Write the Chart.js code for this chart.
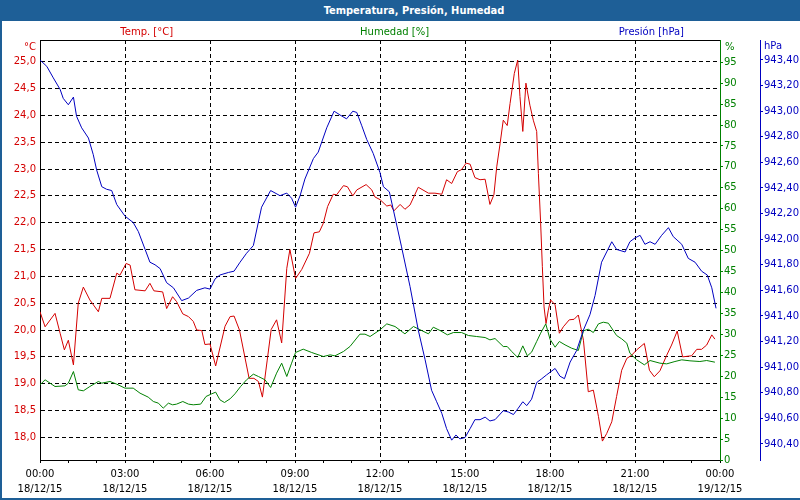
<!DOCTYPE html>
<html>
<head>
<meta charset="utf-8">
<script src="https://cdn.jsdelivr.net/npm/chart.js@4.4.1/dist/chart.umd.min.js"></script>
<style>
  html, body { margin: 0; padding: 0; background: #fff; }
  #wrap { position: relative; width: 800px; height: 500px; overflow: hidden; }
  #chartBox { position: absolute; left: 0; top: 0; width: 800px; height: 500px; }
  #titleBar {
    position: absolute; left: 0; top: 0; width: 800px; height: 21px;
    background: #1e5f97; color: #fff; z-index: 2;
    font: bold 11px "DejaVu Sans Condensed", "DejaVu Sans", sans-serif;
    line-height: 21px;
  }
  #titleBar span { position: absolute; left: 414px; transform: translateX(-50%); white-space: nowrap; }
  #frame {
    position: absolute; left: 0; top: 0; width: 800px; height: 500px; box-sizing: border-box;
    border-left: 2px solid #1e5f97; border-bottom: 2px solid #1e5f97; z-index: 3; pointer-events: none;
  }
</style>
</head>
<body>
<div id="wrap">
  <div id="chartBox"><canvas id="meteoChart"></canvas></div>
  <div id="titleBar"><span>Temperatura, Presión, Humedad</span></div>
  <div id="frame"></div>
</div>
<script>
// ── Data (hours since 18/12/15 00:00) ──────────────────────
const hourLabels = ['00:00', '03:00', '06:00', '09:00', '12:00', '15:00', '18:00', '21:00', '00:00'];
const dateLabels = ['18/12/15', '18/12/15', '18/12/15', '18/12/15', '18/12/15', '18/12/15', '18/12/15', '18/12/15', '19/12/15'];

const tempTicks = [18.0, 18.5, 19.0, 19.5, 20.0, 20.5, 21.0, 21.5, 22.0, 22.5, 23.0, 23.5, 24.0, 24.5, 25.0];
const humTicks  = [0, 5, 10, 15, 20, 25, 30, 35, 40, 45, 50, 55, 60, 65, 70, 75, 80, 85, 90, 95];
const presTicks = [940.4, 940.6, 940.8, 941.0, 941.2, 941.4, 941.6, 941.8, 942.0, 942.2, 942.4, 942.6, 942.8, 943.0, 943.2, 943.4];

const tempHours = [0, 0.18, 0.53, 0.71, 0.86, 1.0, 1.18, 1.35, 1.53, 1.76, 2.06, 2.18, 2.47, 2.71, 2.82, 3.04, 3.18, 3.35, 3.71, 3.88,
  4.02, 4.33, 4.47, 4.68, 4.82, 5.04, 5.24, 5.41, 5.53, 5.71, 5.82, 6.0, 6.2, 6.53, 6.71, 6.85, 7.04, 7.38, 7.55, 7.71,
  7.85, 8.02, 8.16, 8.35, 8.53, 8.71, 8.82, 9.02, 9.24, 9.51, 9.67, 9.86, 10.0, 10.15, 10.35, 10.47, 10.71, 10.85, 11.04, 11.18,
  11.51, 11.71, 11.82, 12.0, 12.24, 12.38, 12.49, 12.71, 12.88, 13.06, 13.35, 13.71, 13.94, 14.18, 14.35, 14.53, 14.73, 14.88, 15.04, 15.18,
  15.35, 15.53, 15.71, 15.88, 16.02, 16.12, 16.24, 16.35, 16.49, 16.59, 16.74, 16.86, 16.94, 17.04, 17.15, 17.29, 17.41, 17.53, 17.59, 17.67,
  17.73, 17.79, 17.86, 17.94, 18.02, 18.18, 18.33, 18.47, 18.68, 18.85, 19.0, 19.18, 19.35, 19.53, 19.71, 19.85, 20.0, 20.18, 20.35, 20.53,
  20.71, 20.88, 21.06, 21.33, 21.51, 21.68, 21.88, 22.12, 22.29, 22.49, 22.68, 23.0, 23.18, 23.35, 23.53, 23.71, 23.82];
const tempValues = [20.34, 20.06, 20.31, 19.94, 19.63, 19.81, 19.35, 20.50, 20.80, 20.56, 20.34, 20.59, 20.59, 21.06, 21.02, 21.24, 21.21, 20.75, 20.73, 20.87,
  20.73, 20.71, 20.40, 20.62, 20.53, 20.30, 20.25, 20.16, 20.00, 19.99, 19.73, 19.74, 19.33, 20.07, 20.25, 20.26, 20.00, 19.10, 19.10, 19.04,
  18.75, 19.44, 20.01, 20.19, 19.76, 21.15, 21.50, 20.96, 21.13, 21.43, 21.81, 21.83, 21.99, 22.30, 22.53, 22.52, 22.69, 22.67, 22.50, 22.61,
  22.71, 22.61, 22.48, 22.43, 22.31, 22.33, 22.22, 22.34, 22.25, 22.33, 22.66, 22.55, 22.55, 22.53, 22.80, 22.73, 22.95, 22.99, 23.11, 23.09,
  22.84, 22.80, 22.81, 22.34, 22.52, 23.04, 23.48, 23.91, 23.81, 24.22, 24.78, 25.03, 24.35, 23.70, 24.60, 24.19, 23.91, 23.70, 22.92, 21.99,
  21.18, 20.43, 20.12, 20.37, 20.56, 20.47, 19.94, 20.06, 20.19, 20.20, 20.28, 19.81, 18.85, 18.88, 18.39, 17.93, 18.07, 18.29, 18.76, 19.25,
  19.47, 19.53, 19.63, 19.75, 19.25, 19.13, 19.24, 19.53, 19.72, 19.98, 19.50, 19.52, 19.64, 19.64, 19.72, 19.91, 19.83];

const humHours = [0, 0.18, 0.53, 0.88, 1.0, 1.18, 1.35, 1.53, 1.76, 2.06, 2.18, 2.47, 2.71, 3.0, 3.29, 3.53, 3.82, 4.0, 4.18, 4.35,
  4.53, 4.68, 4.82, 5.04, 5.24, 5.41, 5.67, 5.86, 6.06, 6.2, 6.35, 6.51, 6.71, 6.88, 7.08, 7.29, 7.53, 7.71, 7.94, 8.14,
  8.35, 8.53, 8.71, 8.88, 9.02, 9.29, 9.59, 10.0, 10.24, 10.41, 10.71, 10.94, 11.29, 11.47, 11.65, 12.0, 12.24, 12.53, 12.88, 13.18,
  13.47, 13.71, 13.88, 14.12, 14.38, 14.59, 14.88, 15.12, 15.41, 15.71, 15.88, 16.06, 16.35, 16.49, 16.65, 16.86, 17.04, 17.2, 17.35, 17.53,
  17.67, 17.85, 18.0, 18.18, 18.33, 18.53, 18.76, 19.0, 19.18, 19.35, 19.53, 19.71, 19.88, 20.06, 20.35, 20.53, 20.71, 20.82, 21.06, 21.33,
  21.53, 21.88, 22.12, 22.41, 22.65, 22.94, 23.29, 23.53, 23.82];
const humValues = [17.95, 19.15, 17.55, 17.71, 18.35, 21.13, 16.76, 16.52, 17.55, 18.75, 18.35, 18.75, 18.11, 17.16, 17.16, 15.96, 15.01, 13.97, 13.57, 12.38,
  13.57, 13.18, 13.34, 13.97, 13.34, 13.18, 13.34, 15.17, 15.80, 16.20, 14.37, 13.73, 14.61, 15.80, 17.55, 19.15, 20.50, 19.94, 19.15, 17.32,
  20.74, 23.12, 19.94, 23.12, 25.67, 26.47, 25.67, 24.71, 25.11, 24.87, 25.91, 27.10, 30.05, 30.05, 29.49, 31.08, 32.51, 31.88, 30.13, 31.88,
  30.92, 30.13, 31.72, 30.92, 29.89, 30.44, 30.44, 29.73, 29.49, 29.25, 28.69, 29.01, 27.10, 27.10, 25.91, 24.48, 27.26, 24.87, 25.75, 28.30,
  30.29, 32.51, 28.85, 26.94, 28.30, 27.50, 26.71, 26.15, 30.84, 31.24, 30.44, 32.51, 32.91, 32.67, 29.73, 28.93, 27.90, 25.51, 23.92, 22.73,
  23.76, 23.12, 22.96, 23.52, 23.92, 23.68, 23.52, 23.76, 23.36];

const presHours = [0, 0.24, 0.47, 0.71, 0.82, 1.0, 1.18, 1.29, 1.47, 1.71, 1.88, 2.0, 2.18, 2.35, 2.53, 2.71, 3.0, 3.29, 3.47, 3.71,
  3.88, 4.06, 4.24, 4.47, 4.71, 5.0, 5.24, 5.53, 5.82, 6.0, 6.18, 6.35, 6.65, 6.85, 7.06, 7.29, 7.53, 7.82, 8.14, 8.47,
  8.71, 8.88, 9.02, 9.18, 9.35, 9.65, 9.82, 10.12, 10.38, 10.59, 10.82, 11.04, 11.18, 11.35, 11.53, 11.76, 12.0, 12.12, 12.33, 12.47,
  12.76, 13.06, 13.35, 13.59, 13.82, 14.0, 14.18, 14.35, 14.53, 14.68, 14.82, 15.0, 15.18, 15.35, 15.53, 15.71, 15.88, 16.06, 16.35, 16.53,
  16.71, 16.88, 17.04, 17.18, 17.35, 17.53, 17.71, 17.88, 18.18, 18.35, 18.51, 18.71, 18.94, 19.18, 19.41, 19.59, 19.82, 20.0, 20.18, 20.35,
  20.65, 20.82, 21.0, 21.18, 21.35, 21.53, 21.71, 21.94, 22.18, 22.35, 22.65, 22.88, 23.12, 23.35, 23.55, 23.71, 23.86];
const presValues = [943.40, 943.35, 943.26, 943.17, 943.10, 943.05, 943.11, 942.96, 942.87, 942.79, 942.66, 942.54, 942.41, 942.39, 942.38, 942.27, 942.18, 942.13, 942.06, 941.92,
  941.82, 941.80, 941.77, 941.66, 941.62, 941.52, 941.54, 941.60, 941.62, 941.61, 941.69, 941.72, 941.74, 941.75, 941.82, 941.89, 941.95, 942.25, 942.38, 942.34,
  942.36, 942.32, 942.25, 942.34, 942.47, 942.63, 942.68, 942.87, 943.00, 942.97, 942.94, 943.00, 942.99, 942.89, 942.78, 942.67, 942.52, 942.41, 942.37, 942.23,
  941.94, 941.63, 941.29, 941.06, 940.82, 940.73, 940.64, 940.52, 940.43, 940.47, 940.44, 940.45, 940.52, 940.59, 940.59, 940.61, 940.58, 940.59, 940.66, 940.65,
  940.63, 940.68, 940.73, 940.70, 940.75, 940.88, 940.91, 940.94, 940.99, 940.93, 940.91, 941.04, 941.13, 941.29, 941.41, 941.56, 941.82, 941.90, 941.98, 941.92,
  941.90, 941.98, 942.01, 942.03, 941.96, 941.98, 941.96, 942.03, 942.09, 942.02, 941.96, 941.85, 941.82, 941.75, 941.72, 941.62, 941.46];

// ── Colours / fonts ────────────────────────────────────────
const RED = '#d40000', GREEN = '#008000', BLUE = '#0000c0';
const FONT = "'DejaVu Sans', sans-serif";
Chart.defaults.font.family = FONT;
Chart.defaults.font.size = 10;

const pts = (xs, ys) => xs.map((h, i) => ({ x: h, y: ys[i] }));
const comma = (v, d) => v.toFixed(d).replace('.', ',');
const fixTicks = list => scale => { scale.ticks = list.map(v => ({ value: v })); };

// ── Series names and unit labels ───────────────────────────
const labelsPlugin = {
  id: 'labels',
  afterDraw(chart) {
    const { ctx, chartArea: a, scales } = chart;
    ctx.save();
    ctx.font = '10px ' + FONT;
    ctx.textBaseline = 'middle';
    ctx.textAlign = 'center';
    const w = a.right - a.left;
    [['Temp. [°C]', 0.157, RED], ['Humedad [%]', 0.5215, GREEN], ['Presión [hPa]', 0.899, BLUE]].forEach(([t, f, c]) => {
      ctx.fillStyle = c;
      ctx.fillText(t, a.left + f * w, 32);
    });
    ctx.textAlign = 'right';
    ctx.fillStyle = RED;
    ctx.fillText('°C', scales.yT.right - 4, a.top + 7);
    ctx.textAlign = 'left';
    ctx.fillStyle = GREEN;
    ctx.fillText('%', scales.yH.left + 5, a.top + 7);
    ctx.fillStyle = BLUE;
    ctx.fillText('hPa', scales.yP.left + 4, a.top + 6);
    // top frame line
    ctx.strokeStyle = '#000';
    ctx.lineWidth = 1;
    ctx.beginPath();
    ctx.moveTo(a.left, a.top + 0.5);
    ctx.lineTo(a.right, a.top + 0.5);
    ctx.stroke();
    ctx.restore();
  }
};

const line = (label, data, color, axis) => ({
  label, data, yAxisID: axis,
  borderColor: color, borderWidth: 1, pointRadius: 0, tension: 0, fill: false
});

new Chart(document.getElementById('meteoChart'), {
  type: 'line',
  data: {
    datasets: [
      line('Presión [hPa]', pts(presHours, presValues), BLUE, 'yP'),
      line('Humedad [%]', pts(humHours, humValues), GREEN, 'yH'),
      line('Temp. [°C]', pts(tempHours, tempValues), RED, 'yT'),
    ]
  },
  options: {
    responsive: true,
    maintainAspectRatio: false,
    animation: false,
    events: [],
    layout: { padding: { top: 40, left: 0, right: 0, bottom: 0 } },
    plugins: { legend: { display: false }, tooltip: { enabled: false } },
    scales: {
      x: {
        type: 'linear', min: 0, max: 24,
        afterFit: s => { s.height = 40; },
        afterBuildTicks: s => { s.ticks = []; for (let h = 0; h <= 24; h++) s.ticks.push({ value: h }); },
        ticks: {
          autoSkip: false, maxRotation: 0, padding: 4, color: '#000',
          font: { size: 10, lineHeight: 1.5 },
          callback: v => (v % 3 === 0 ? [hourLabels[v / 3], dateLabels[v / 3]] : '')
        },
        grid: {
          color: c => (c.tick && c.tick.value % 3 === 0 && c.tick.value > 0 && c.tick.value < 24 ? '#000' : 'rgba(0,0,0,0)'),
          tickColor: '#000', tickLength: 3, lineWidth: 1
        },
        border: { color: '#000', width: 1, dash: [4, 3] }
      },
      yT: {
        type: 'linear', position: 'left', min: 17.578, max: 25.404,
        afterFit: s => { s.width = 40; },
        afterBuildTicks: fixTicks(tempTicks),
        ticks: { color: RED, padding: 4, callback: v => comma(v, 1) },
        grid: { color: '#000', drawTicks: false, lineWidth: 1 },
        border: { color: '#000', width: 1, dash: [4, 3] }
      },
      yH: {
        type: 'linear', position: 'right', min: 0, max: 100.3,
        afterFit: s => { s.width = 40; },
        afterBuildTicks: fixTicks(humTicks),
        ticks: { color: GREEN, padding: 1, callback: v => String(v) },
        grid: { drawOnChartArea: false, tickColor: GREEN, tickLength: 3 },
        border: { color: GREEN, width: 1 }
      },
      yP: {
        type: 'linear', position: 'right', min: 940.275, max: 943.556,
        afterFit: s => { s.width = 40; },
        afterBuildTicks: fixTicks(presTicks),
        ticks: { color: BLUE, padding: 1, callback: v => comma(v, 2) },
        grid: { drawOnChartArea: false, tickColor: BLUE, tickLength: 3 },
        border: { color: BLUE, width: 1 }
      }
    }
  },
  plugins: [labelsPlugin]
});
</script>
</body>
</html>
